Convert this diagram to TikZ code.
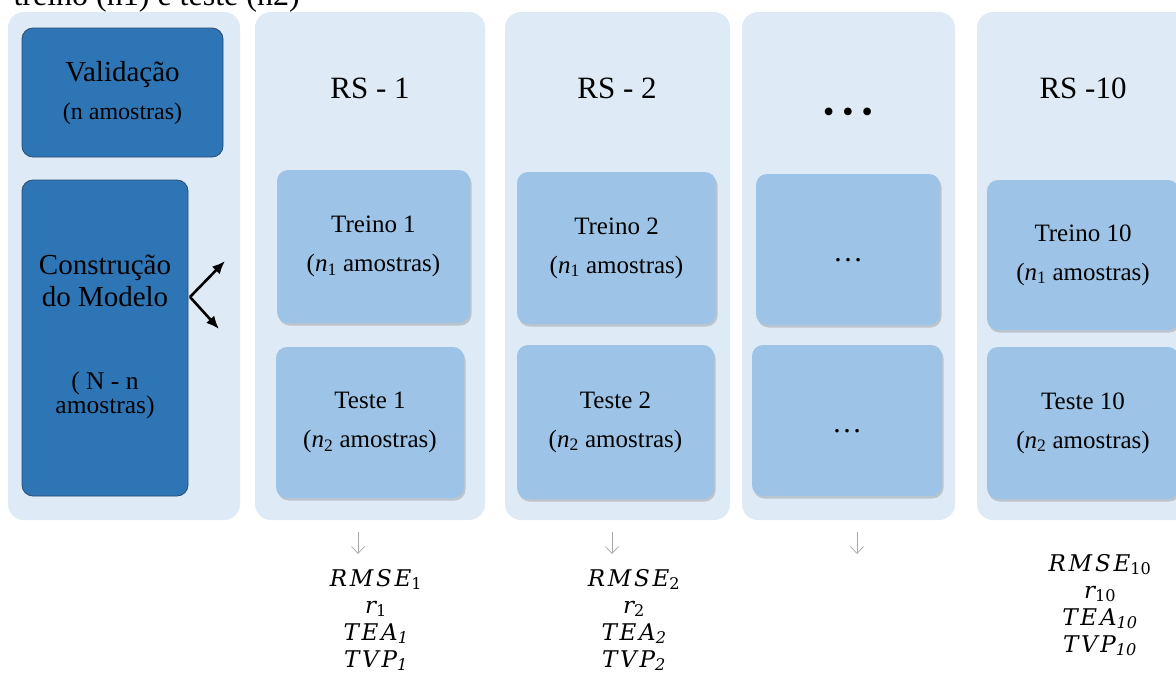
\documentclass[tikz,border=0pt]{standalone}
\usepackage{fontspec}
\setmainfont{Liberation Serif}
\newfontfamily\metricfont{DejaVu Serif}[LetterSpace=12]
\newfontfamily\metricsub{DejaVu Serif}
\usetikzlibrary{arrows}
\usetikzlibrary{arrows.meta}
\usetikzlibrary{shadows}
\usetikzlibrary{positioning}

\definecolor{panelblue}{HTML}{DEEAF6}
\definecolor{darkblue}{HTML}{2E75B6}
\definecolor{darkedge}{HTML}{2B4C6E}
\definecolor{lightblue}{HTML}{9DC3E6}

\tikzset{
  panel/.style={fill=panelblue, rounded corners=16pt, minimum height=508pt, inner sep=0pt},
  darkbox/.style={fill=darkblue, draw=darkedge, line width=0.8pt, rounded corners=11pt, inner sep=0pt},
  innerbox/.style={fill=lightblue, rounded corners=11pt, inner sep=0pt, align=center,
    font=\fontsize{25}{39}\selectfont,
    drop shadow={shadow xshift=1.5pt, shadow yshift=-2.5pt, opacity=0.35}},
  dotsbox/.style={innerbox, font=\fontsize{30}{36}\selectfont, text height=24pt, text depth=0pt},
  title/.style={font=\fontsize{31}{36}\selectfont},
  metric/.style={align=center, font=\metricfont\itshape\fontsize{23}{27}\selectfont},
  downarrow/.style={-{Straight Barb[length=7pt,width=13pt]}, draw=black!35, line width=0.7pt},
  forkarrow/.style={-{Latex[length=13pt,width=11pt]}, line width=2.6pt},
}

\newcommand{\amostras}[1]{(\textit{n}\textsubscript{#1} amostras)}
\newcommand{\upsub}[1]{\textsubscript{\metricsub\upshape #1}}
\newcommand{\itsub}[1]{\textsubscript{\metricsub\itshape #1}}

\begin{document}
\begin{tikzpicture}[x=1pt, y=-1pt]
  \useasboundingbox (0,0) rectangle (1176,673);
  \clip (0,0) rectangle (1176,673);

  \node[anchor=base west, font=\fontsize{32}{36}\selectfont] (header) at (10,5) {treino (n1) e teste (n2)};

  % fundos
  \node[panel, minimum width=232pt] (p0) at (124,266) {};
  \node[panel, minimum width=230pt] (p1) at (370,266) {};
  \node[panel, minimum width=225pt] (p2) at (617.5,266) {};
  \node[panel, minimum width=213pt] (p3) at (848.5,266) {};
  \node[panel, minimum width=223pt] (p4) at (1088.5,266) {};

  % validacao e construcao
  \node[darkbox, minimum width=201pt, minimum height=129pt, align=center,
        font=\fontsize{29}{38}\selectfont] (val) at (122.5,92.5)
        {Validação\\{\fontsize{24}{38}\selectfont (n amostras)}};
  \node[darkbox, minimum width=166pt, minimum height=316pt] (cm) at (105,338) {};
  \node[align=center, font=\fontsize{29}{32}\selectfont] (cmtext) at (105,281) {Construção\\do Modelo};
  \node[align=center, font=\fontsize{25.5}{24}\selectfont] (cmn) at (105,395) {( N - n\\amostras)};

  \coordinate (fork) at (190,297);
  \coordinate (up) at (225,261);
  \coordinate (down) at (219,329);
  \draw[forkarrow] (fork) -- (up);
  \draw[forkarrow] (fork) -- (down);

  % reamostragens
  \node[title] (t1) at (370,88) {RS - 1};
  \node[title] (t2) at (617,88) {RS - 2};
  \node[font=\fontsize{32}{36}\selectfont] (t3) at (848,115) {\textbullet\ \textbullet\ \textbullet};
  \node[title] (t4) at (1083,88) {RS -10};

  \node[innerbox, minimum width=193pt, minimum height=153pt] (tr1) at (373.5,246.5) {Treino 1\\\amostras{1}};
  \node[innerbox, minimum width=188pt, minimum height=151pt] (te1) at (370,422.5) {Teste 1\\\amostras{2}};
  \node[innerbox, minimum width=199pt, minimum height=152pt] (tr2) at (616.5,248) {Treino 2\\\amostras{1}};
  \node[innerbox, minimum width=197pt, minimum height=154pt] (te2) at (615.5,422) {Teste 2\\\amostras{2}};
  \node[dotsbox, minimum width=184pt, minimum height=151pt] (tr3) at (848,249.5) {\dots};
  \node[dotsbox, minimum width=190pt, minimum height=151pt] (te3) at (847,420.5) {\dots};
  \node[innerbox, minimum width=192pt, minimum height=150pt] (tr4) at (1083,255) {Treino 10\\\amostras{1}};
  \node[innerbox, minimum width=192pt, minimum height=152pt] (te4) at (1083,423) {Teste 10\\\amostras{2}};

  % saidas
  \foreach \i/\x in {1/358, 2/612, 3/857}{
    \coordinate (a\i) at (\x,532);
    \coordinate (b\i) at (\x,554);
    \draw[downarrow] (a\i) -- (b\i);
  }

  \node[metric] (m1) at (376,620) {RMSE\upsub{1}\\r\upsub{1}\\TEA\itsub{1}\\TVP\itsub{1}};
  \node[metric] (m2) at (634,620) {RMSE\upsub{2}\\r\upsub{2}\\TEA\itsub{2}\\TVP\itsub{2}};
  \node[metric] (m4) at (1100,605) {RMSE\upsub{10}\\r\upsub{10}\\TEA\itsub{10}\\TVP\itsub{10}};
\end{tikzpicture}
\end{document}
